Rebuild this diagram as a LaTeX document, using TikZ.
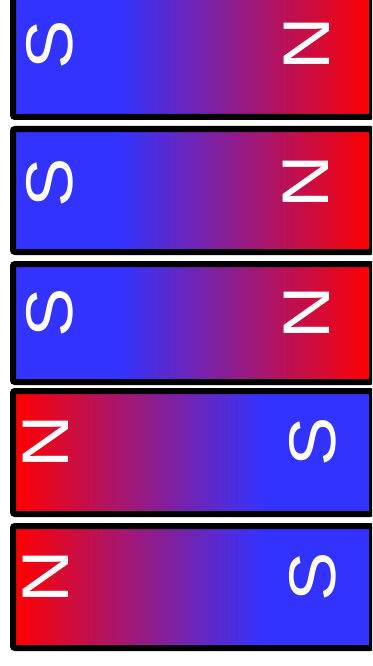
\documentclass[tikz,border=0pt]{standalone}
\usepackage{fontspec}
\setmainfont{Liberation Sans}
\definecolor{mblue}{RGB}{51,51,255}
\definecolor{mred}{RGB}{255,0,0}
\pgfdeclarehorizontalshading{magnetSN}{100bp}{color(0bp)=(mblue); color(25bp)=(mblue); color(40bp)=(mblue); color(75bp)=(mred); color(100bp)=(mred)}
\pgfdeclarehorizontalshading{magnetNS}{100bp}{color(0bp)=(mred); color(25bp)=(mred); color(60bp)=(mblue); color(75bp)=(mblue); color(100bp)=(mblue)}
\begin{document}
\begin{tikzpicture}[x=1pt,y=-1pt,
  magnet/.style={draw=black, line width=6pt, rounded corners=2pt, minimum width=359pt, inner sep=0pt, shade},
  sn/.style={magnet, shading=magnetSN},
  ns/.style={magnet, shading=magnetNS},
  pole/.style={text=white, inner sep=0pt, font=\fontsize{66}{66}\selectfont, rotate=90, xscale=1.12}]
\useasboundingbox (0,0) rectangle (372,666);
\clip (0,0) rectangle (372,666);
\node[sn, minimum height=122pt] (m1) at (192.5,56) {};
\node[sn, minimum height=123pt] (m2) at (192.5,190.5) {};
\node[sn, minimum height=118pt] (m3) at (192.5,323) {};
\node[ns, minimum height=123pt] (m4) at (192.5,452.5) {};
\node[ns, minimum height=122pt] (m5) at (192.5,587) {};
\node[pole] (s1) at (50,44.5) {S};
\node[pole] (n1) at (307,44) {N};
\node[pole] (s2) at (50,183) {S};
\node[pole] (n2) at (306,182) {N};
\node[pole] (s3) at (50,313) {S};
\node[pole] (n3) at (307,313) {N};
\node[pole] (n4) at (46,441.5) {N};
\node[pole] (s4) at (313,442) {S};
\node[pole] (n5) at (46,577) {N};
\node[pole] (s5) at (313,577) {S};
\end{tikzpicture}
\end{document}
